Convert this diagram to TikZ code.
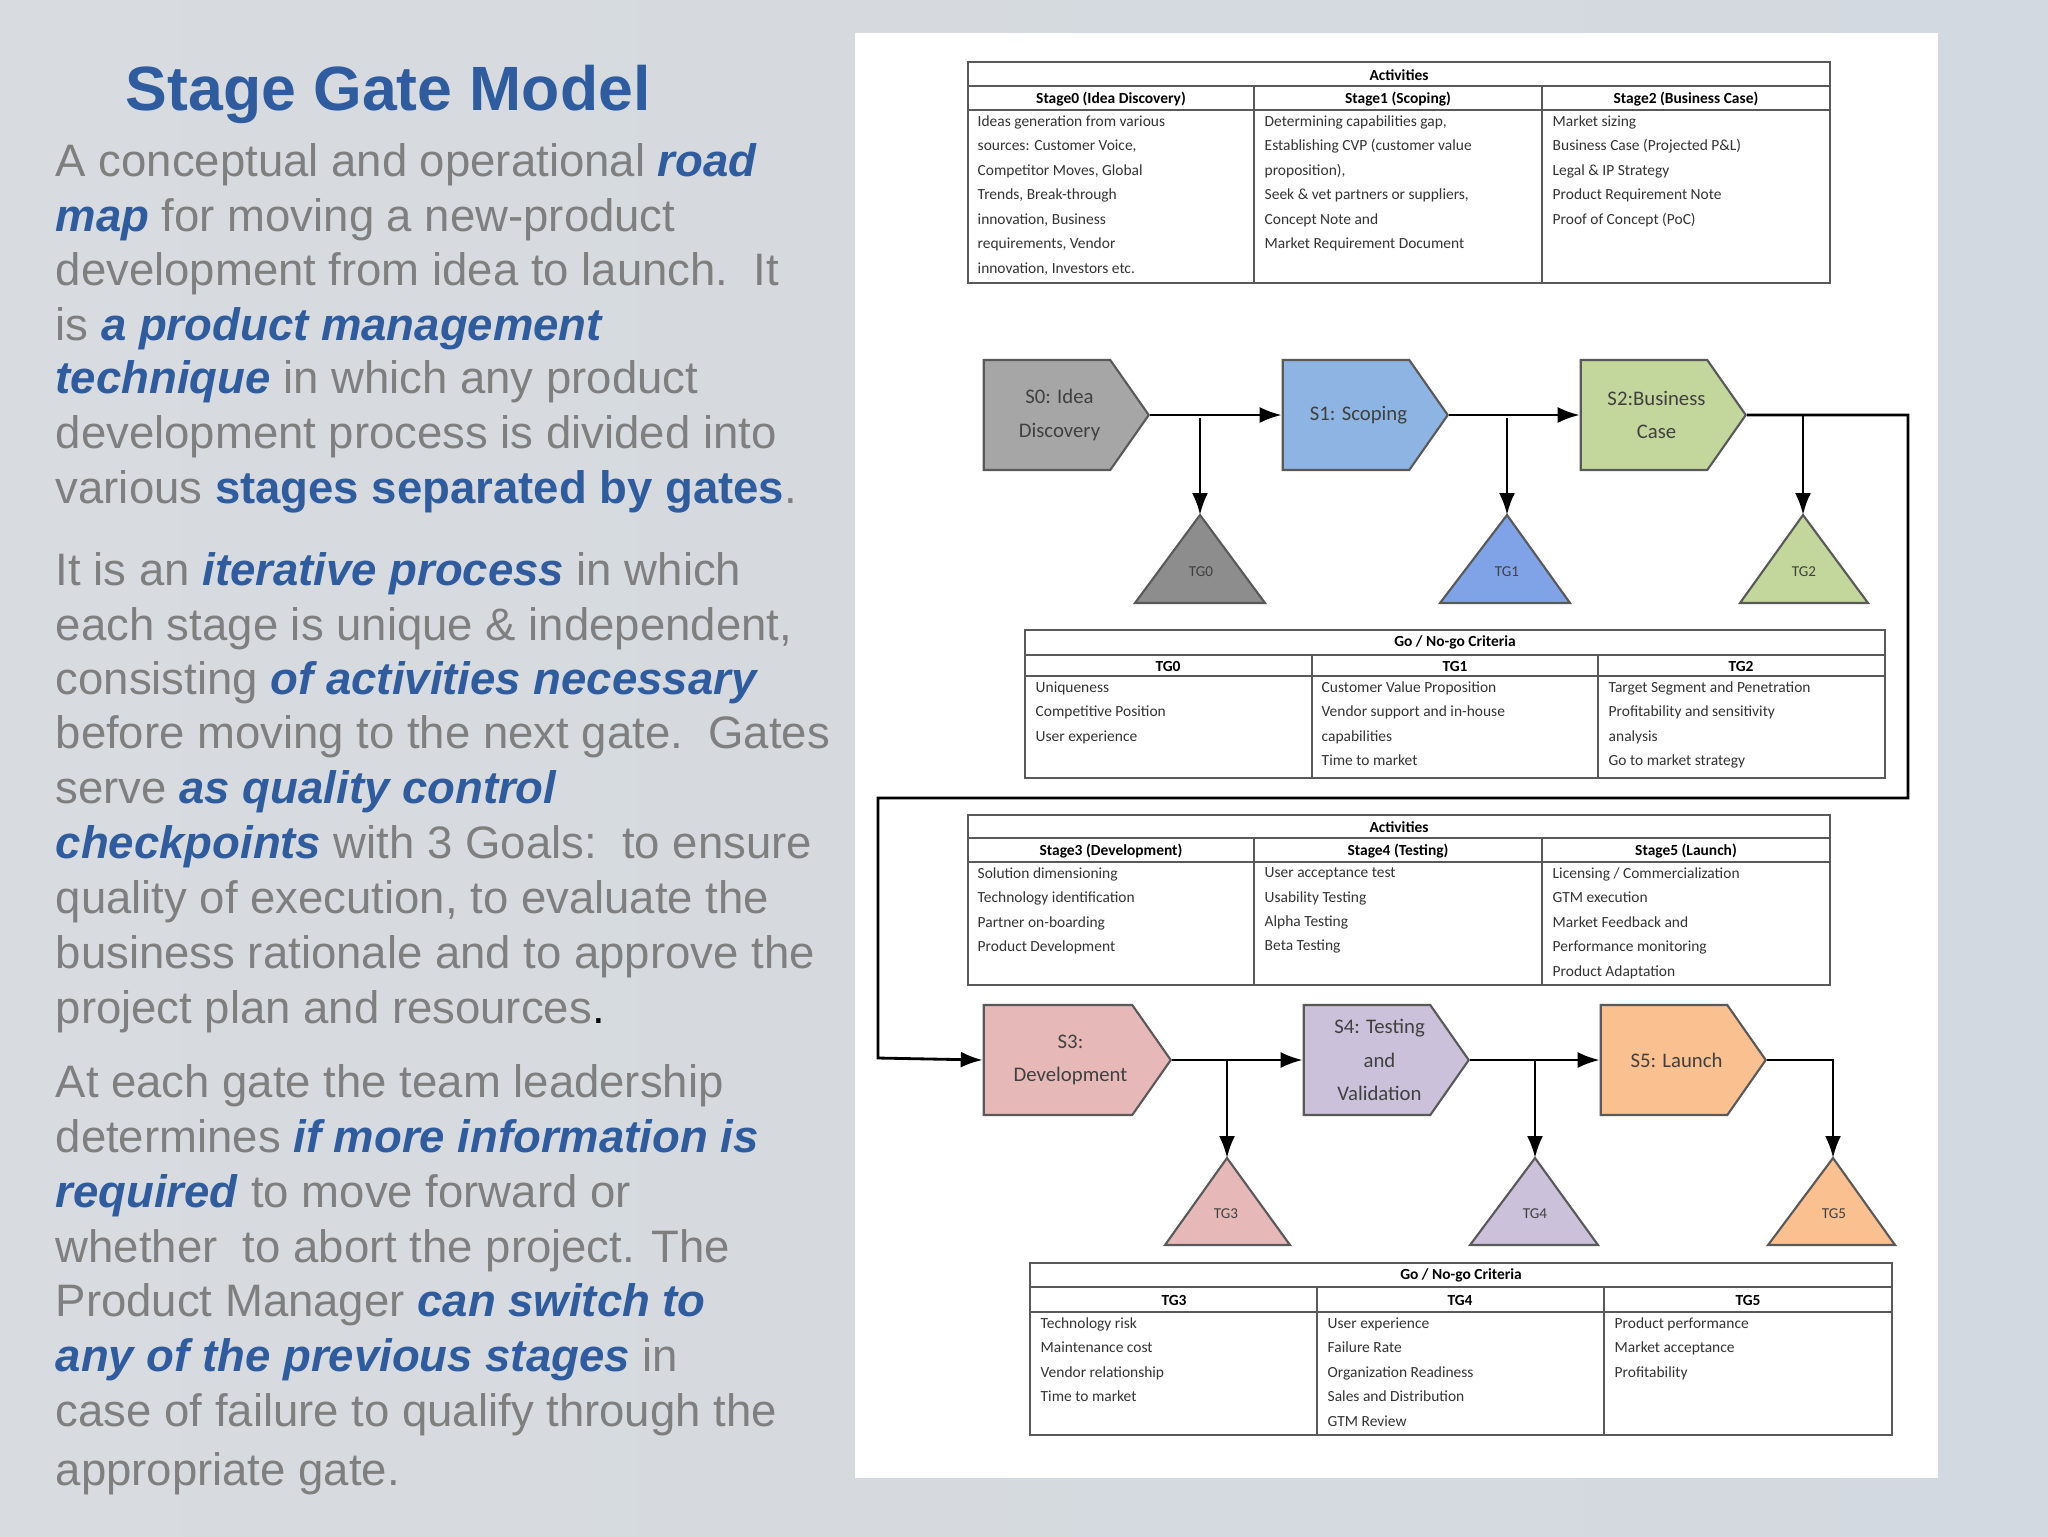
\documentclass[tikz,border=0pt]{standalone}
\usepackage{fontspec}
\setmainfont{Liberation Sans}
\newfontfamily\tabfont{Carlito}
\usetikzlibrary{shapes.symbols,arrows.meta}
\definecolor{bg}{HTML}{D3D9E0}
\definecolor{tblue}{HTML}{2E5C9E}
\definecolor{tgray}{HTML}{7F7F7F}
\definecolor{sgray}{HTML}{A6A6A6}
\definecolor{sblue}{HTML}{8EB4E3}
\definecolor{sgreen}{HTML}{C3D69B}
\definecolor{spink}{HTML}{E6B9B8}
\definecolor{slav}{HTML}{CCC1DA}
\definecolor{sorange}{HTML}{FAC090}
\definecolor{edge}{HTML}{595959}
\newcommand{\hlx}[1]{\textcolor{tblue}{\textbf{\textit{#1}}}}
\newcommand{\hbx}[1]{\textcolor{tblue}{\textbf{#1}}}
\tikzset{
 body/.style={anchor=base west,inner sep=0,text=tgray,font=\fontsize{12.95}{15}\selectfont},
 stage/.style={shape=signal,signal to=east,signal pointer angle=110,draw=edge,line width=0.6pt,
   minimum width=16.5mm,minimum height=11mm,inner sep=0,align=center,
   font=\tabfont\fontsize{5.9}{9.6}\selectfont,text=black!75},
 tri/.style={draw=edge,line width=0.6pt},
 tgl/.style={font=\tabfont\fontsize{4.3}{5}\selectfont,text=black!75},
 conn/.style={-{Latex[length=2.2mm,width=1.6mm]},line width=0.8pt},
 tb/.style={draw=edge,line width=0.6pt},
 th/.style={font=\tabfont\bfseries\fontsize{4.4}{5}\selectfont,inner sep=0},
 tt/.style={font=\tabfont\fontsize{4.4}{6.95}\selectfont,inner sep=0,anchor=north west,align=left,text=black!80},
}
\begin{document}
\begin{tikzpicture}[x=0.1mm,y=-0.1mm]
\useasboundingbox (0,0) rectangle (2048,1536);
\shade[left color=bg!90!black!60!white,right color=bg] (0,0) rectangle (2048,1536);
\fill[white] (855,33) rectangle (1938,1478);
% title and text
\node[anchor=base west,inner sep=0,text=tblue,font=\bfseries\fontsize{17.8}{20}\selectfont] (title) at (125,110) {Stage Gate Model};
\node[body] (l1) at (55,176) {A conceptual and operational \hlx{road}};
\node[body] (l2) at (55,231) {\hlx{map} for moving a new-product};
\node[body] (l3) at (55,285) {development from idea to launch.\ \ It};
\node[body] (l4) at (55,340) {is \hlx{a product management}};
\node[body] (l5) at (55,393) {\hlx{technique} in which any product};
\node[body] (l6) at (55,448) {development process is divided into};
\node[body] (l7) at (55,503) {various \hbx{stages separated by gates}.};
\node[body] (l8) at (55,585) {It is an \hlx{iterative process} in which};
\node[body] (l9) at (55,640) {each stage is unique \& independent,};
\node[body] (l10) at (55,694) {consisting \hlx{of activities necessary}};
\node[body] (l11) at (55,748) {before moving to the next gate.\ \ Gates};
\node[body] (l12) at (55,803) {serve \hlx{as quality control}};
\node[body] (l13) at (55,858) {\hlx{checkpoints} with 3 Goals:\ \ to ensure};
\node[body] (l14) at (55,913) {quality of execution, to evaluate the};
\node[body] (l15) at (55,968) {business rationale and to approve the};
\node[body] (l16) at (55,1023) {project plan and resources\textcolor{black}{.}};
\node[body] (l17) at (55,1097) {At each gate the team leadership};
\node[body] (l18) at (55,1152) {determines \hlx{if more information is}};
\node[body] (l19) at (55,1207) {\hlx{required} to move forward or};
\node[body] (l20) at (55,1262) {whether\ \ to abort the project. The};
\node[body] (l21) at (55,1316) {Product Manager \hlx{can switch to}};
\node[body] (l22) at (55,1371) {\hlx{any of the previous stages} in};
\node[body] (l23) at (55,1426) {case of failure to qualify through the};
\node[body] (l24) at (55,1485) {appropriate gate.};
% ---- top activities table
\draw[tb] (968,62) rectangle (1830,283);
\draw[tb] (968,86) -- (1830,86) (968,110) -- (1830,110);
\draw[tb] (1254,86) -- (1254,283) (1542,86) -- (1542,283);
\node[th] (ta) at (1399,75) {Activities};
\node[th] (ta0) at (1111,99) {Stage0 (Idea Discovery)};
\node[th] (ta1) at (1398,99) {Stage1 (Scoping)};
\node[th] (ta2) at (1686,99) {Stage2 (Business Case)};
\node[tt] (tb0) at (977,115) {Ideas generation from various\\sources: Customer Voice,\\Competitor Moves, Global\\Trends, Break-through\\innovation, Business\\requirements, Vendor\\innovation, Investors etc.};
\node[tt] (tb1) at (1264,115) {Determining capabilities gap,\\Establishing CVP (customer value\\proposition),\\Seek \& vet partners or suppliers,\\Concept Note and\\Market Requirement Document};
\node[tt] (tb2) at (1552,115) {Market sizing\\Business Case (Projected P\&L)\\Legal \& IP Strategy\\Product Requirement Note\\Proof of Concept (PoC)};
% ---- stages row 1
\node[stage,fill=sgray] (s0) at (1047,415) {\hspace*{2.5mm}S0: Idea\\\hspace*{2.5mm}Discovery};
\node[stage,fill=sblue] (s1) at (1346,415) {\hspace*{2.5mm}S1: Scoping};
\node[stage,fill=sgreen] (s2) at (1644,415) {\hspace*{2.5mm}S2:Business\\\hspace*{2.5mm}Case};
\draw[tri,fill=sgray!85!black] (1135,603) -- (1200,515) coordinate (g0) -- (1265,603) -- cycle;
\draw[tri,fill=sblue!90!blue] (1440,603) -- (1507,515) coordinate (g1) -- (1570,603) -- cycle;
\draw[tri,fill=sgreen] (1740,603) -- (1803,515) coordinate (g2) -- (1868,603) -- cycle;
\node[tgl] (tg0) at (1201,572) {TG0};
\node[tgl] (tg1) at (1507,572) {TG1};
\node[tgl] (tg2) at (1804,572) {TG2};
\draw[conn] (s0.east) -- (s1.west);
\draw[conn] (s1.east) -- (s2.west);
\draw[conn] (1200,418) -- (g0);
\draw[conn] (1507,418) -- (g1);
\draw[conn] (s2.east) -| (g2);
% ---- gonogo 1
\draw[tb] (1025,630) rectangle (1885,778);
\draw[tb] (1025,655) -- (1885,655) (1025,676) -- (1885,676);
\draw[tb] (1312,655) -- (1312,778) (1598,655) -- (1598,778);
\node[th] (tg) at (1455,642) {Go / No-go Criteria};
\node[th] (tgh0) at (1168,666) {TG0};
\node[th] (tgh1) at (1455,666) {TG1};
\node[th] (tgh2) at (1741,666) {TG2};
\node[tt] (tgb0) at (1035,681) {Uniqueness\\Competitive Position\\User experience};
\node[tt] (tgb1) at (1321,681) {Customer Value Proposition\\Vendor support and in-house\\capabilities\\Time to market};
\node[tt] (tgb2) at (1608,681) {Target Segment and Penetration\\Profitability and sensitivity\\analysis\\Go to market strategy};
% ---- bottom activities
\draw[tb] (968,815) rectangle (1830,985);
\draw[tb] (968,838) -- (1830,838) (968,862) -- (1830,862);
\draw[tb] (1254,838) -- (1254,985) (1542,838) -- (1542,985);
\node[th] (tc) at (1399,827) {Activities};
\node[th] (tc0) at (1111,851) {Stage3 (Development)};
\node[th] (tc1) at (1398,851) {Stage4 (Testing)};
\node[th] (tc2) at (1686,851) {Stage5 (Launch)};
\node[tt] (td0) at (977,867) {Solution dimensioning\\Technology identification\\Partner on-boarding\\Product Development};
\node[tt] (td1) at (1264,867) {User acceptance test\\Usability Testing\\Alpha Testing\\Beta Testing};
\node[tt] (td2) at (1552,867) {Licensing / Commercialization\\GTM execution\\Market Feedback and\\Performance monitoring\\Product Adaptation};
% ---- stages row 2
\node[stage,fill=spink,minimum width=18.7mm] (s3) at (1058,1060) {\hspace*{2.5mm}S3:\\\hspace*{2.5mm}Development};
\node[stage,fill=slav] (s4) at (1367,1060) {\hspace*{2.5mm}S4: Testing\\\hspace*{2.5mm}and\\\hspace*{2.5mm}Validation};
\node[stage,fill=sorange] (s5) at (1664,1060) {\hspace*{2.5mm}S5: Launch};
\draw[tri,fill=spink] (1165,1245) -- (1227,1158) coordinate (g3) -- (1290,1245) -- cycle;
\draw[tri,fill=slav] (1470,1245) -- (1535,1158) coordinate (g4) -- (1598,1245) -- cycle;
\draw[tri,fill=sorange] (1768,1245) -- (1833,1158) coordinate (g5) -- (1895,1245) -- cycle;
\node[tgl] (tg3) at (1226,1214) {TG3};
\node[tgl] (tg4) at (1535,1214) {TG4};
\node[tgl] (tg5) at (1834,1214) {TG5};
\draw[conn] (s3.east) -- (s4.west);
\draw[conn] (s4.east) -- (s5.west);
\draw[conn] (1227,1060) -- (g3);
\draw[conn] (1535,1060) -- (g4);
\draw[conn] (s5.east) -| (g5);
% loop connector
\draw[conn] (s2.east) -| (1908,798) -| (878,1058) -- (s3.west);
% ---- gonogo 2
\draw[tb] (1030,1263) rectangle (1892,1435);
\draw[tb] (1030,1287) -- (1892,1287) (1030,1312) -- (1892,1312);
\draw[tb] (1317,1287) -- (1317,1435) (1604,1287) -- (1604,1435);
\node[th] (te) at (1461,1275) {Go / No-go Criteria};
\node[th] (teh0) at (1174,1300) {TG3};
\node[th] (teh1) at (1460,1300) {TG4};
\node[th] (teh2) at (1748,1300) {TG5};
\node[tt] (teb0) at (1040,1317) {Technology risk\\Maintenance cost\\Vendor relationship\\Time to market};
\node[tt] (teb1) at (1327,1317) {User experience\\Failure Rate\\Organization Readiness\\Sales and Distribution\\GTM Review};
\node[tt] (teb2) at (1614,1317) {Product performance\\Market acceptance\\Profitability};
\end{tikzpicture}
\end{document}
